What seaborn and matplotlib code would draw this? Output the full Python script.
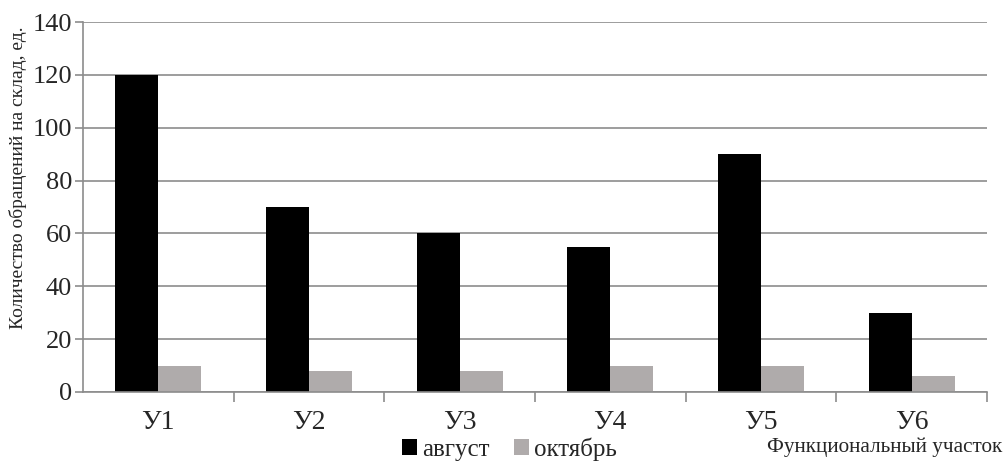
import matplotlib
matplotlib.use("Agg")
import matplotlib.pyplot as plt
import seaborn as sns
import pandas as pd
import numpy as np
from matplotlib.patches import Patch
from matplotlib.ticker import FixedLocator

categories = ["У1", "У2", "У3", "У4", "У5", "У6"]
august = [120, 70, 60, 55, 90, 30]
october = [10, 8, 8, 10, 10, 6]
series_names = ["август", "октябрь"]
y_ticks = [0, 20, 40, 60, 80, 100, 120, 140]

df = pd.DataFrame({
    "cat": categories * 2,
    "val": august + october,
    "series": [series_names[0]] * len(categories) + [series_names[1]] * len(categories),
})

sns.set_style("white")
plt.rcParams["font.family"] = ["Liberation Serif", "DejaVu Serif"]

colors = ["#000000", "#AFABAB"]
fig = plt.figure(figsize=(10.05, 4.61), dpi=100)
ax = fig.add_axes([0.0826, 0.1497, 0.8994, 0.8023])

sns.barplot(data=df, x="cat", y="val", hue="series", palette=colors,
            width=0.57, saturation=1, ax=ax, legend=False, linewidth=0)

ax.set_xlim(-0.5, len(categories) - 0.5)
ax.set_ylim(0, 140)
ax.set_yticks(y_ticks)
ax.yaxis.grid(True, color="#8c8c8c", linewidth=1.2)
ax.set_axisbelow(True)
for s in ["top", "right"]:
    ax.spines[s].set_visible(False)
for s in ["left", "bottom"]:
    ax.spines[s].set_color("#8c8c8c")
    ax.spines[s].set_linewidth(1.2)

ax.tick_params(axis="y", which="major", length=6, color="#8c8c8c", width=1.2,
               labelsize=19, pad=2, left=True)
ax.tick_params(axis="x", which="major", length=0, labelsize=20, pad=13)
ax.xaxis.set_minor_locator(FixedLocator(np.arange(0.5, len(categories), 1.0)))
ax.tick_params(axis="x", which="minor", length=7, color="#8c8c8c", width=1.2, bottom=True)

ax.set_xlabel("")
ax.set_ylabel("Количество обращений на склад, ед.", fontsize=14, labelpad=0)
ax.yaxis.set_label_coords(-0.062, 0.58)

fig.text(0.997, 0.030, "Функциональный участок", fontsize=15.3, ha="right", va="center")

handles = [Patch(facecolor=c, edgecolor="none") for c in colors]
fig.legend(handles, series_names, loc="center", bbox_to_anchor=(0.507, 0.026),
           ncol=2, frameon=False, fontsize=18, handlelength=0.6, handleheight=0.6,
           handletextpad=0.2, columnspacing=0.95, borderpad=0)

fig.savefig("out.png", dpi=100, facecolor="white")
